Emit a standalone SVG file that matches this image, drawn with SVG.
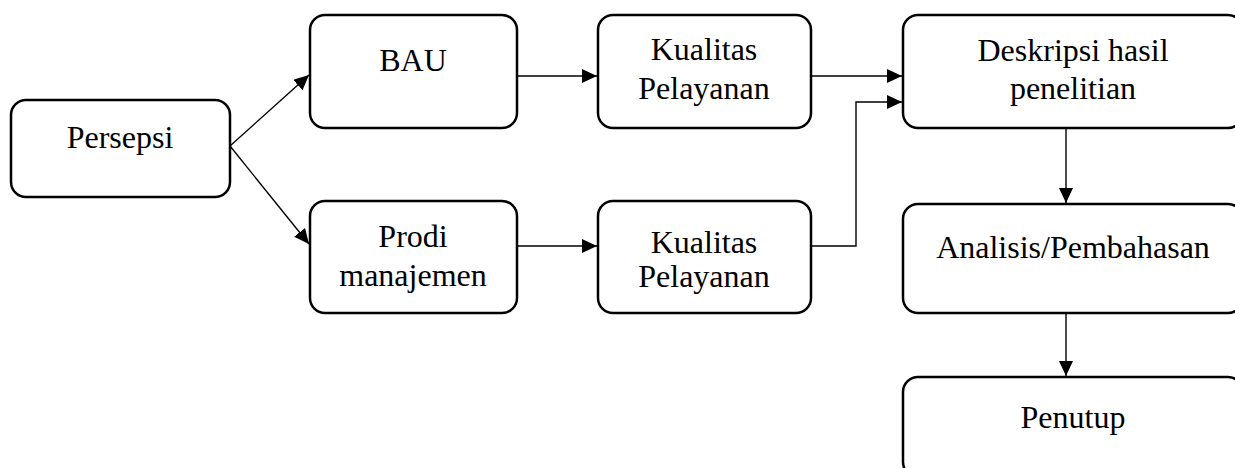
<svg xmlns="http://www.w3.org/2000/svg" width="1235" height="468" viewBox="0 0 1235 468">
<style>
.box{fill:#fff;stroke:#000;stroke-width:2.5}
.t{font-family:"Liberation Serif","Times New Roman",serif;font-size:32px;fill:#000;text-anchor:middle}
.c{fill:none;stroke:#000;stroke-width:1.4}
</style>
<defs>
<marker id="ah" markerUnits="userSpaceOnUse" markerWidth="16" markerHeight="14" refX="15" refY="7" orient="auto">
<path d="M0,0 L15,7 L0,14 z" fill="#000"/>
</marker>
</defs>
<rect width="1235" height="468" fill="#fff"/>
<g id="connectors">
<line class="c" x1="230" y1="146" x2="309" y2="75" marker-end="url(#ah)"/>
<line class="c" x1="230" y1="146" x2="309" y2="244" marker-end="url(#ah)"/>
<line class="c" x1="517" y1="76" x2="597" y2="76" marker-end="url(#ah)"/>
<line class="c" x1="517" y1="246" x2="597" y2="246" marker-end="url(#ah)"/>
<line class="c" x1="811" y1="76" x2="902" y2="76" marker-end="url(#ah)"/>
<polyline class="c" points="811,246 856,246 856,102 902,102" marker-end="url(#ah)"/>
<line class="c" x1="1066" y1="128" x2="1066" y2="203" marker-end="url(#ah)"/>
<line class="c" x1="1066" y1="313" x2="1066" y2="376" marker-end="url(#ah)"/>
</g>
<g id="persepsi">
<rect class="box" x="11" y="100" width="219" height="97" rx="15"/>
<text class="t" x="120" y="148">Persepsi</text>
</g>
<g id="bau">
<rect class="box" x="310" y="15" width="207" height="113" rx="15"/>
<text class="t" x="413" y="71">BAU</text>
</g>
<g id="prodi">
<rect class="box" x="310" y="201" width="207" height="112" rx="15"/>
<text class="t" x="413" y="247">Prodi</text>
<text class="t" x="413" y="286">manajemen</text>
</g>
<g id="kualitas1">
<rect class="box" x="598" y="15" width="213" height="113" rx="15"/>
<text class="t" x="704" y="60">Kualitas</text>
<text class="t" x="704" y="99">Pelayanan</text>
</g>
<g id="kualitas2">
<rect class="box" x="598" y="201" width="213" height="112" rx="15"/>
<text class="t" x="704" y="253">Kualitas</text>
<text class="t" x="704" y="287">Pelayanan</text>
</g>
<g id="deskripsi">
<rect class="box" x="903" y="15" width="340" height="113" rx="15"/>
<text class="t" x="1073" y="61">Deskripsi hasil</text>
<text class="t" x="1073" y="99">penelitian</text>
</g>
<g id="analisis">
<rect class="box" x="903" y="204" width="340" height="109" rx="15"/>
<text class="t" x="1073" y="258">Analisis/Pembahasan</text>
</g>
<g id="penutup">
<rect class="box" x="903" y="377" width="340" height="100" rx="15"/>
<text class="t" x="1073" y="428">Penutup</text>
</g>
</svg>
